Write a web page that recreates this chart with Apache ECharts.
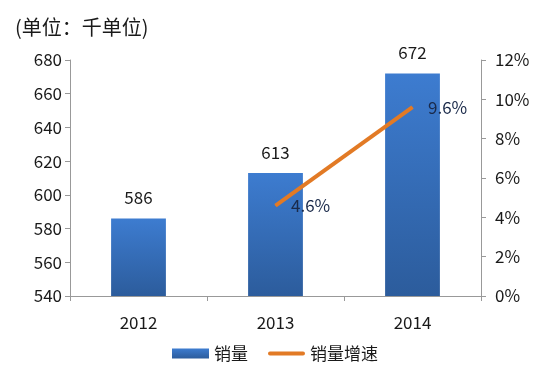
<!DOCTYPE html>
<html>
<head>
<meta charset="utf-8">
<script src="https://cdn.jsdelivr.net/npm/echarts@6/dist/echarts.min.js"></script>
<style>
	html, body { margin: 0; padding: 0; background: #fff; }
	#chart { width: 550px; height: 389px; }
</style>
</head>
<body>
<div id="chart"></div>
<script>
	// 数据
	const years = ['2012', '2013', '2014'];
	const sales = [586, 613, 672];
	const growth = ['-', 4.6, 9.6];

	const chart = echarts.init(document.getElementById('chart'));
	const font = '"Microsoft YaHei", "Noto Sans CJK SC", sans-serif';

	chart.setOption({
		animation: false,
		textStyle: { fontFamily: font },
		title: {
			text: '(单位：千单位)',
			left: 10,
			top: 12,
			textStyle: { fontSize: 20, fontWeight: 'normal', color: '#1a1a1a', fontFamily: font }
		},
		grid: { left: 70, right: 69, top: 60, bottom: 93 },
		legend: {
			bottom: 22,
			left: 'center',
			itemGap: 20,
			itemWidth: 37,
			itemHeight: 10,
			textStyle: { fontSize: 17, color: '#1a1a1a', fontFamily: font },
			data: [
				{ name: '销量', icon: 'rect' },
				{ name: '销量增速', icon: 'path://M0,0 L0.01,0 Z M2,3 L35,3 A2,2 0 0 1 35,7 L2,7 A2,2 0 0 1 2,3 Z M0,10 L0.01,10 Z' }
			]
		},
		xAxis: {
			type: 'category',
			data: years,
			axisLine: { lineStyle: { color: '#999' } },
			axisTick: { show: true, length: 5, lineStyle: { color: '#999' } },
			axisLabel: { fontSize: 17, color: '#1a1a1a', margin: 18 }
		},
		yAxis: [
			{
				type: 'value',
				min: 540,
				max: 680,
				interval: 20,
				axisLine: { show: true, lineStyle: { color: '#999' } },
				axisTick: { show: true, length: 5, lineStyle: { color: '#999' } },
				axisLabel: { fontSize: 17, color: '#1a1a1a', margin: 8 },
				splitLine: { show: false }
			},
			{
				type: 'value',
				min: 0,
				max: 12,
				interval: 2,
				axisLine: { show: true, lineStyle: { color: '#999' } },
				axisTick: { show: true, length: 5, lineStyle: { color: '#999' } },
				axisLabel: { fontSize: 17, color: '#1a1a1a', margin: 14, formatter: '{value}%' },
				splitLine: { show: false }
			}
		],
		series: [
			{
				name: '销量',
				type: 'bar',
				data: sales,
				barWidth: '40%',
				itemStyle: {
					color: new echarts.graphic.LinearGradient(0, 0, 0, 1, [
						{ offset: 0, color: '#3d7cd0' },
						{ offset: 1, color: '#2c5c9c' }
					])
				},
				label: {
					show: true,
					position: 'top',
					distance: 12,
					fontSize: 17,
					color: '#1a1a1a'
				}
			},
			{
				name: '销量增速',
				type: 'line',
				yAxisIndex: 1,
				data: growth,
				symbol: 'circle',
				symbolSize: 1,
				showSymbol: true,
				color: '#e27a25',
				lineStyle: { color: '#e27a25', width: 4 },
				label: {
					show: true,
					position: 'right',
					distance: 15,
					offset: [0, 3],
					fontSize: 17,
					color: '#1a2a4a',
					formatter: function (p) {
						return typeof p.value === 'number' ? p.value.toFixed(1) + '%' : '';
					}
				},
				labelLayout: { hideOverlap: false }
			}
		]
	});
</script>
</body>
</html>
